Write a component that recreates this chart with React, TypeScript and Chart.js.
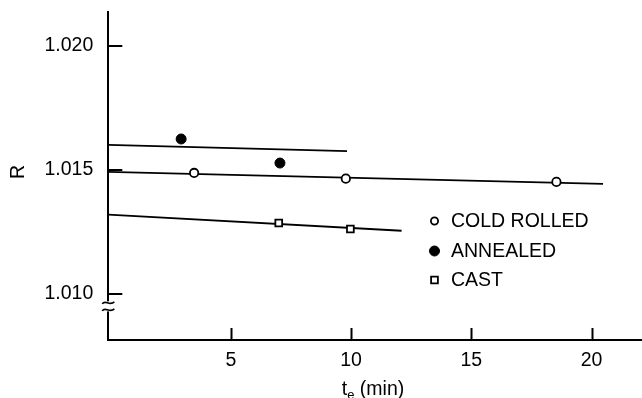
import React, { useEffect, useRef } from "react";
import { Chart, registerables } from "chart.js";

Chart.register(...registerables);

// ---- data ----
const coldRolledX = [3.47, 9.78, 18.54];
const coldRolledR = [1.01488, 1.01465, 1.01452];
const annealedX = [2.93, 7.04];
const annealedR = [1.01625, 1.01528];
const castX = [6.99, 9.97];
const castR = [1.01286, 1.01262];

// fitted straight lines (end points)
const coldFitX = [-0.1, 20.48];
const coldFitR = [1.01492, 1.01444];
const annealedFitX = [-0.1, 9.83];
const annealedFitR = [1.01601, 1.01576];
const castFitX = [-0.1, 12.1];
const castFitR = [1.0132, 1.01255];

const xTicks = [5, 10, 15, 20];
const yTicks = [1.01, 1.015, 1.02];
const legendLabels = ["COLD ROLLED", "ANNEALED", "CAST"];

const xMin = -0.1;
const xMax = 22.1;
const yMin = 1.008145;
const yMax = 1.02137;

const FONT = "'Liberation Sans', Arial, Helvetica, sans-serif";
const FS = 19.5;

const pts = (xs: number[], ys: number[]) => xs.map((x, i) => ({ x, y: ys[i] }));

const decorPlugin = {
  id: "decor",
  afterDraw(chart: any) {
    const ctx = chart.ctx;
    const xs = chart.scales.x;
    const ys = chart.scales.y;
    const area = chart.chartArea;
    ctx.save();
    ctx.strokeStyle = "#000";
    ctx.lineWidth = 2;
    // inward ticks
    xs.ticks.forEach((t: any) => {
      const px = Math.round(xs.getPixelForValue(t.value)) + 0.5;
      ctx.beginPath();
      ctx.moveTo(px, area.bottom);
      ctx.lineTo(px, area.bottom - 12);
      ctx.stroke();
    });
    ys.ticks.forEach((t: any) => {
      const py = Math.round(ys.getPixelForValue(t.value));
      ctx.beginPath();
      ctx.moveTo(area.left, py);
      ctx.lineTo(area.left + 14, py);
      ctx.stroke();
    });
    // axis break mark
    const by = ys.getPixelForValue(1.0095);
    const bx = area.left;
    ctx.fillStyle = "#fff";
    ctx.fillRect(bx - 4, by - 5, 9, 10);
    ctx.lineWidth = 1.7;
    [-3.5, 3.5].forEach((d) => {
      const y = by + d;
      ctx.beginPath();
      ctx.moveTo(bx - 6, y + 1);
      ctx.bezierCurveTo(bx - 3, y - 4, bx + 1, y + 4, bx + 6, y - 1);
      ctx.stroke();
    });

    // legend
    const lx = 434.5;
    const rows = [221, 251, 280];
    ctx.font = `${FS}px ${FONT}`;
    ctx.textBaseline = "middle";
    ctx.textAlign = "left";
    const legendDs = [3, 4, 5];
    legendDs.forEach((di, i) => {
      const ds = chart.data.datasets[di];
      const y = rows[i];
      ctx.lineWidth = ds.borderWidth;
      ctx.strokeStyle = ds.borderColor;
      ctx.fillStyle = ds.backgroundColor;
      if (ds.pointStyle === "rect") {
        const s = Math.SQRT1_2 * ds.pointRadius;
        ctx.beginPath();
        ctx.rect(lx - s, y - s, 2 * s, 2 * s);
        ctx.fill();
        ctx.stroke();
      } else {
        const r = i === 0 ? 3.6 : ds.pointRadius;
        ctx.beginPath();
        ctx.arc(lx, y, r, 0, Math.PI * 2);
        ctx.fill();
        ctx.stroke();
      }
      ctx.fillStyle = "#000";
      ctx.fillText(legendLabels[i], 451, y + 0.5);
    });

    // axis titles
    ctx.fillStyle = "#000";
    ctx.save();
    ctx.translate(18.5, 172);
    ctx.rotate(-Math.PI / 2);
    ctx.textAlign = "center";
    ctx.textBaseline = "middle";
    ctx.font = `${FS}px ${FONT}`;
    ctx.fillText("R", 0, 0);
    ctx.restore();

    ctx.textAlign = "left";
    ctx.textBaseline = "alphabetic";
    const baseY = 395;
    ctx.font = `${FS}px ${FONT}`;
    const wT = ctx.measureText("t").width;
    ctx.font = `13px ${FONT}`;
    const wE = ctx.measureText("e").width;
    ctx.font = `${FS}px ${FONT}`;
    const wRest = ctx.measureText(" (min)").width;
    const total = wT + wE + wRest;
    const x0 = 373 - total / 2;
    ctx.fillText("t", x0, baseY);
    ctx.font = `13px ${FONT}`;
    ctx.fillText("e", x0 + wT, baseY + 4);
    ctx.font = `${FS}px ${FONT}`;
    ctx.fillText(" (min)", x0 + wT + wE, baseY);
    ctx.restore();
  },
};

export default function App() {
  const ref = useRef<HTMLCanvasElement | null>(null);

  useEffect(() => {
    if (!ref.current) return;
    Chart.defaults.font.family = FONT;
    Chart.defaults.color = "#000";
    const lineDs = (xs: number[], ys: number[]) => ({
      type: "line" as const,
      data: pts(xs, ys),
      showLine: true,
      borderColor: "#000",
      borderWidth: 1.8,
      pointRadius: 0,
      fill: false,
      order: 2,
    });
    const chart = new Chart(ref.current, {
      type: "scatter",
      data: {
        datasets: [
          lineDs(annealedFitX, annealedFitR),
          lineDs(coldFitX, coldFitR),
          lineDs(castFitX, castFitR),
          {
            label: legendLabels[0],
            data: pts(coldRolledX, coldRolledR),
            pointStyle: "circle",
            pointRadius: 4.2,
            backgroundColor: "#fff",
            borderColor: "#000",
            borderWidth: 1.8,
            order: 1,
          },
          {
            label: legendLabels[1],
            data: pts(annealedX, annealedR),
            pointStyle: "circle",
            pointRadius: 5,
            backgroundColor: "#000",
            borderColor: "#000",
            borderWidth: 1,
            order: 1,
          },
          {
            label: legendLabels[2],
            data: pts(castX, castR),
            pointStyle: "rect",
            pointRadius: 4.8,
            backgroundColor: "#fff",
            borderColor: "#000",
            borderWidth: 1.8,
            order: 1,
          },
        ] as any,
      },
      options: {
        animation: false,
        responsive: false,
        layout: { autoPadding: false, padding: { top: 12, right: 0, left: 0, bottom: 0 } },
        plugins: { legend: { display: false }, tooltip: { enabled: false } },
        scales: {
          x: {
            type: "linear",
            min: xMin,
            max: xMax,
            grid: { display: false, drawTicks: false },
            border: { display: true, color: "#000", width: 2 },
            ticks: { font: { size: FS, family: FONT }, color: "#000", padding: 9 },
            afterBuildTicks: (scale: any) => {
              scale.ticks = xTicks.map((v) => ({ value: v }));
            },
            afterFit: (scale: any) => {
              scale.height = 58;
              scale.paddingLeft = 0;
              scale.paddingRight = 0;
            },
          },
          y: {
            type: "linear",
            min: yMin,
            max: yMax,
            grid: { display: false, drawTicks: false },
            border: { display: true, color: "#000", width: 2 },
            ticks: {
              font: { size: FS, family: FONT },
              color: "#000",
              padding: 15,
              callback: (v: any) => Number(v).toFixed(3),
            },
            afterBuildTicks: (scale: any) => {
              scale.ticks = yTicks.map((v) => ({ value: v }));
            },
            afterFit: (scale: any) => {
              scale.width = 108.3;
              scale.paddingTop = 0;
              scale.paddingBottom = 0;
            },
          },
        },
      },
      plugins: [decorPlugin],
    });
    return () => chart.destroy();
  }, []);

  return (
    <div style={{ position: "fixed", left: 0, top: 0, width: 642, height: 398, background: "#fff" }}>
      <canvas ref={ref} width={642} height={398} style={{ display: "block" }} />
    </div>
  );
}
